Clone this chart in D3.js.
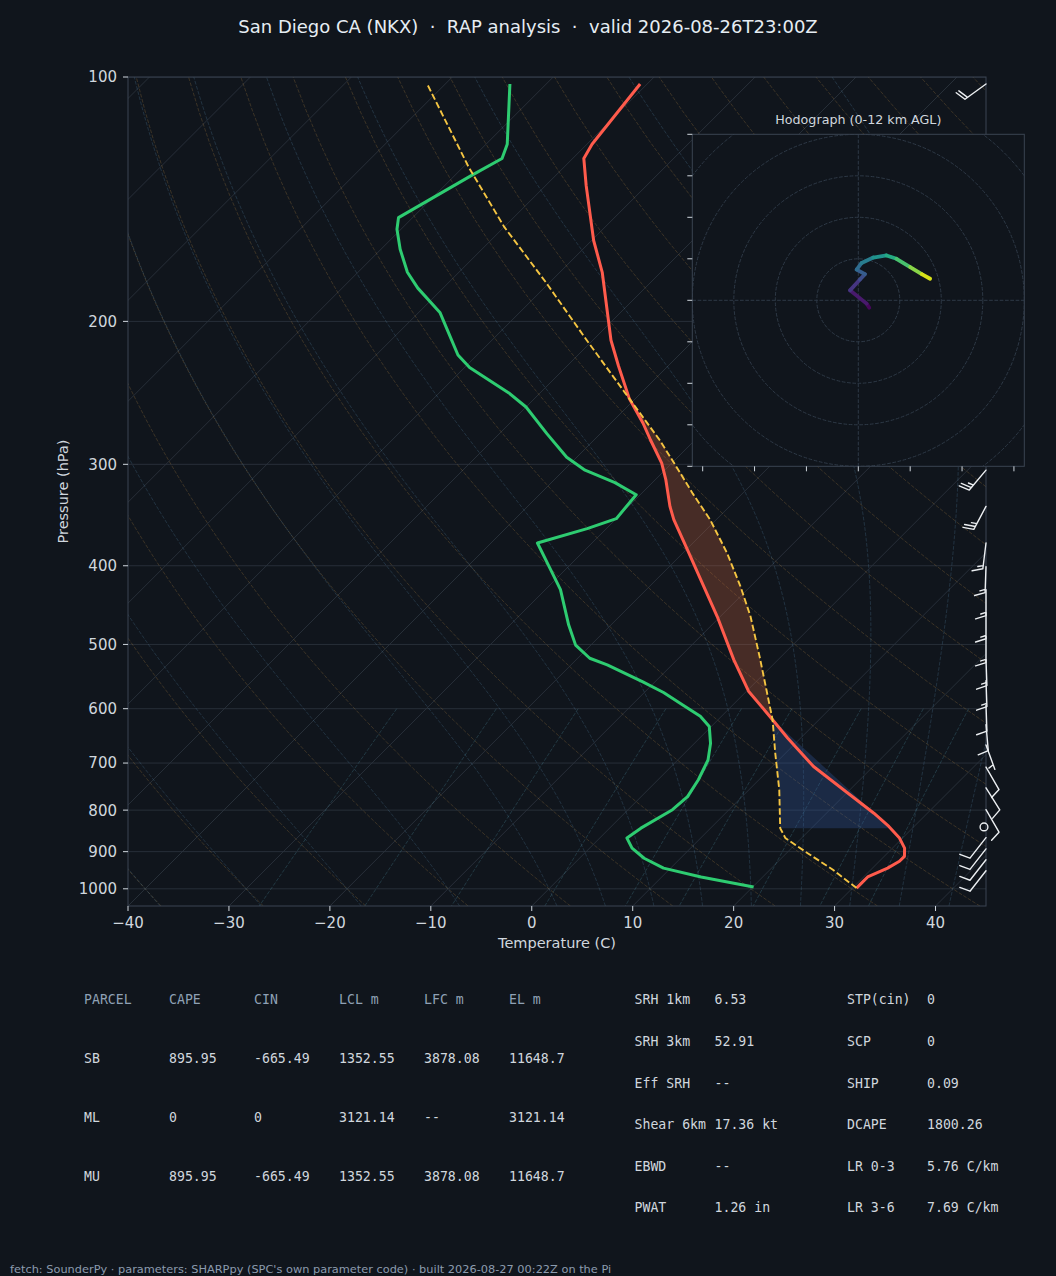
<!DOCTYPE html>
<html>
<head>
<meta charset="utf-8">
<script src="https://cdn.jsdelivr.net/npm/d3@7"></script>
<style>
  html, body { margin: 0; padding: 0; background: #10151c; }
  svg { display: block; }
</style>
</head>
<body>
<div id="chart"></div>
<script>
// Skew-T / log-P sounding with hodograph inset and parameter table

// environment temperature (hPa, C)
const tempP = [998, 982, 967, 943, 925, 912, 891, 866, 838, 807, 762, 707, 652, 619, 571, 522, 462, 416, 382, 351, 338, 313, 299, 280, 267, 249, 227, 211, 174, 159, 136, 126, 121, 102];
const tempC = [30.4, 30.4, 30.4, 31.5, 32.0, 32.0, 31.2, 29.7, 27.5, 24.7, 20.1, 14.1, 8.7, 5.4, 0.2, -4.4, -10.3, -15.6, -19.9, -24.2, -25.9, -29.0, -31.0, -34.4, -36.8, -40.6, -44.9, -48.2, -55.8, -59.8, -66.0, -68.9, -69.5, -70.7];

// dewpoint (hPa, C)
const dewP = [995, 967, 943, 917, 891, 866, 842, 799, 770, 734, 694, 662, 631, 613, 594, 573, 556, 530, 520, 501, 473, 428, 401, 375, 360, 350, 327, 316, 305, 294, 275, 255, 245, 228, 220, 203, 195, 182, 174, 163, 154, 149, 132, 126, 121, 102];
const dewC = [20.1, 13.9, 9.3, 6.4, 4.2, 2.7, 3.1, 4.4, 4.6, 4.0, 3.0, 1.6, -0.2, -2.1, -4.9, -8.1, -11.2, -16.4, -18.8, -21.5, -24.2, -28.5, -31.9, -35.4, -31.9, -30.0, -30.4, -33.7, -37.9, -41.0, -45.3, -50.0, -53.1, -59.5, -61.9, -65.9, -67.9, -72.5, -75.1, -78.1, -80.4, -81.4, -78.3, -77.0, -77.9, -83.6];

// surface parcel path (hPa, C)
const parcelP = [998, 948, 904, 866, 842, 755, 681, 619, 518, 462, 424, 386, 351, 326, 302, 280, 249, 211, 179, 153, 129, 102];
const parcelC = [30.4, 26.3, 22.1, 18.4, 16.9, 13.0, 9.0, 5.4, -2.1, -7.0, -11.0, -15.6, -20.6, -24.9, -29.2, -33.5, -40.6, -50.6, -60.4, -70.0, -79.5, -91.8];
const lclP = 842, lfcP = 619, elP = 249;

// wind barbs (hPa, deg, kt)
const barbP   = [102, 305, 338, 375, 401, 428, 457, 489, 522, 554, 594, 628, 665, 708, 751, 799, 839, 865, 893, 921, 950];
const barbDir = [234, 220, 208, 187, 182, 180, 180, 180, 178, 178, 178, 175, 160, 150, 148, 150, 0, 218, 218, 218, 218];
const barbSpd = [20, 25, 25, 15, 15, 15, 15, 15, 15, 15, 10, 10, 5, 10, 10, 10, 0, 10, 10, 10, 10];

// hodograph (kt) and height (km AGL)
const hodoU = [2.65, 2.0, -2.0, 0.4, 1.6, -0.4, 0.8, 3.6, 6.8, 9.2, 12.5, 15.3, 17.3];
const hodoV = [-1.8, -0.8, 2.4, 5.0, 6.3, 7.4, 9.0, 10.3, 10.8, 10.0, 8.0, 6.3, 5.2];
const hodoZ = [0, 0.4, 1.2, 2.5, 3.2, 3.8, 4.6, 5.5, 6.8, 7.8, 9.2, 10.5, 12];

// axes ticks
const xTicks = [-40, -30, -20, -10, 0, 10, 20, 30, 40];
const yTicks = [100, 200, 300, 400, 500, 600, 700, 800, 900, 1000];
const hodoXTicks = [-37.5, -25, -12.5, 0, 12.5, 25, 37.5];
const hodoYTicks = [-40, -30, -20, -10, 0, 10, 20, 30, 40];
const hodoRings = [10, 20, 30, 40, 50];

// parameter table
const parcelHeaders = ['PARCEL', 'CAPE', 'CIN', 'LCL m', 'LFC m', 'EL m'];
const parcelRows = [
  ['SB', '895.95', '-665.49', '1352.55', '3878.08', '11648.7'],
  ['ML', '0', '0', '3121.14', '--', '3121.14'],
  ['MU', '895.95', '-665.49', '1352.55', '3878.08', '11648.7']
];
const paramLabelsA = ['SRH 1km', 'SRH 3km', 'Eff SRH', 'Shear 6km', 'EBWD', 'PWAT'];
const paramValuesA = ['6.53', '52.91', '--', '17.36 kt', '--', '1.26 in'];
const paramLabelsB = ['STP(cin)', 'SCP', 'SHIP', 'DCAPE', 'LR 0-3', 'LR 3-6'];
const paramValuesB = ['0', '0', '0.09', '1800.26', '5.76 C/km', '7.69 C/km'];

const titleText = 'San Diego CA (NKX)  \u00b7  RAP analysis  \u00b7  valid 2026-08-26T23:00Z';
const footerText = "fetch: SounderPy \u00b7 parameters: SHARPpy (SPC's own parameter code) \u00b7 built 2026-08-27 00:22Z on the Pi";

// ---------------------------------------------------------------
const BG = '#10151c';
const TEXT = '#d0d7de';
const SPINE = '#3a4452';
const GRID = '#2a323c';
const SANS = '"DejaVu Sans", sans-serif';
const MONO = '"DejaVu Sans Mono", monospace';

const figW = 1056, figH = 1276;
const margin = { left: 128, top: 77 };
const W = 858, H = 829;

const svg = d3.select('#chart').append('svg')
  .attr('width', figW).attr('height', figH);

svg.append('rect').attr('width', figW).attr('height', figH).attr('fill', BG);

const x = d3.scaleLinear().domain([-40, 45]).range([0, W]);
const y = d3.scaleLog().domain([1050, 100]).range([H, 0]);
const skewX = (t, p) => x(t) + (H - y(p));

const zip = (ps, ts) => ps.map((p, i) => ({ p: p, t: ts[i] }));
const line = d3.line().x(d => skewX(d.t, d.p)).y(d => y(d.p));

const defs = svg.append('defs');
defs.append('clipPath').attr('id', 'skew-clip')
  .append('rect').attr('width', W).attr('height', H);

const g = svg.append('g').attr('transform', `translate(${margin.left},${margin.top})`);
const plot = g.append('g').attr('clip-path', 'url(#skew-clip)');

// isobars
plot.selectAll('.isobar').data(yTicks).enter().append('line')
  .attr('x1', 0).attr('x2', W)
  .attr('y1', d => y(d)).attr('y2', d => y(d))
  .attr('stroke', GRID).attr('stroke-width', 0.9);

// isotherms
plot.selectAll('.isotherm').data(d3.range(-130, 50, 10)).enter().append('line')
  .attr('x1', d => skewX(d, 1050)).attr('y1', H)
  .attr('x2', d => skewX(d, 100)).attr('y2', 0)
  .attr('stroke', GRID).attr('stroke-width', 0.9);

// dry adiabats
const profileP = d3.range(1050, 99, -10);
d3.range(-40, 246, 10).forEach(t0 => {
  const pts = profileP.map(p => ({ p: p, t: (t0 + 273.15) * Math.pow(p / 1000, 0.2857) - 273.15 }));
  plot.append('path').attr('d', line(pts))
    .attr('fill', 'none').attr('stroke', 'rgba(190,140,70,0.28)')
    .attr('stroke-width', 0.9).attr('stroke-dasharray', '3.7,1.6');
});

// moist adiabats
const Rd = 287.04749, Cp = 1004.6662, Lv = 2.50084e6, eps = 0.6219569;
function satMix(p, T) {
  const es = 6.112 * Math.exp(17.67 * (T - 273.15) / (T - 29.65));
  return eps * es / (p - es);
}
function dTdp(p, T) {
  const rs = satMix(p, T);
  return (Rd * T + Lv * rs) / (Cp + Lv * Lv * rs * eps / (Rd * T * T)) / p;
}
function moistPath(t0) {
  const walk = (dp, stop) => {
    let T = t0 + 273.15, p = 1000;
    const out = [];
    while ((dp < 0 && p > stop) || (dp > 0 && p < stop)) {
      const k1 = dTdp(p, T);
      const k2 = dTdp(p + dp / 2, T + dp / 2 * k1);
      const k3 = dTdp(p + dp / 2, T + dp / 2 * k2);
      const k4 = dTdp(p + dp, T + dp * k3);
      T += dp / 6 * (k1 + 2 * k2 + 2 * k3 + k4);
      p += dp;
      out.push({ p: p, t: T - 273.15 });
    }
    return out;
  };
  return walk(2, 1050).reverse().concat([{ p: 1000, t: t0 }], walk(-2, 100));
}
d3.range(-40, 0, 10).concat(d3.range(0, 46, 5)).forEach(t0 => {
  plot.append('path').attr('d', line(moistPath(t0)))
    .attr('fill', 'none').attr('stroke', 'rgba(90,140,180,0.28)')
    .attr('stroke-width', 0.9).attr('stroke-dasharray', '3.7,1.6');
});

// mixing ratio lines
const mixP = d3.range(600, 1051, 10);
[0.0004, 0.001, 0.002, 0.004, 0.007, 0.01, 0.016, 0.024, 0.032].forEach(w => {
  const pts = mixP.map(p => {
    const e = p * w / (eps + w);
    const v = Math.log(e / 6.112);
    return { p: p, t: 243.5 * v / (17.67 - v) };
  });
  plot.append('path').attr('d', line(pts))
    .attr('fill', 'none').attr('stroke', 'rgba(80,150,170,0.3)')
    .attr('stroke-width', 0.9).attr('stroke-dasharray', '3.7,1.6');
});

// CAPE / CIN shading
function tempAt(ps, ts, p) {
  for (let i = 0; i < ps.length - 1; i++) {
    if ((ps[i] - p) * (ps[i + 1] - p) <= 0) {
      const f = Math.log(p / ps[i]) / Math.log(ps[i + 1] / ps[i]);
      return ts[i] + f * (ts[i + 1] - ts[i]);
    }
  }
  return ts[ts.length - 1];
}
const parcel = zip(parcelP, parcelC);
const env = zip(tempP, tempC);

const capePoly = parcel.filter(d => d.p <= lfcP && d.p >= elP)
  .concat(env.filter(d => d.p <= lfcP && d.p >= elP).reverse());
plot.append('path').attr('d', line(capePoly) + 'Z')
  .attr('fill', 'rgba(200,100,62,0.3)').attr('stroke', 'none');

const cinPoly = parcel.filter(d => d.p <= lclP && d.p >= lfcP)
  .concat(env.filter(d => d.p >= lfcP && d.p < lclP))
  .concat([{ p: lclP, t: tempAt(tempP, tempC, lclP) }]);
plot.append('path').attr('d', line(cinPoly) + 'Z')
  .attr('fill', 'rgba(53,94,165,0.3)').attr('stroke', 'none');

// profiles
plot.append('path').attr('d', line(env))
  .attr('fill', 'none').attr('stroke', '#ff5b4c').attr('stroke-width', 3)
  .attr('stroke-linejoin', 'round');
plot.append('path').attr('d', line(zip(dewP, dewC)))
  .attr('fill', 'none').attr('stroke', '#2ecc71').attr('stroke-width', 3)
  .attr('stroke-linejoin', 'round');
plot.append('path').attr('d', line(parcel))
  .attr('fill', 'none').attr('stroke', '#f5c542').attr('stroke-width', 1.9)
  .attr('stroke-dasharray', '6.5,2.8');

// spines
g.append('rect').attr('width', W).attr('height', H)
  .attr('fill', 'none').attr('stroke', SPINE).attr('stroke-width', 1);

// y axis
const yAx = g.append('g');
yTicks.forEach(p => {
  yAx.append('line').attr('x1', -5).attr('x2', 0).attr('y1', y(p)).attr('y2', y(p))
    .attr('stroke', TEXT).attr('stroke-width', 1);
  yAx.append('text').attr('x', -11).attr('y', y(p)).attr('dy', '0.36em')
    .attr('text-anchor', 'end').attr('fill', TEXT)
    .style('font-family', SANS).style('font-size', '15px').text(p);
});

// x axis
const xAx = g.append('g').attr('transform', `translate(0,${H})`);
xTicks.forEach(t => {
  xAx.append('line').attr('x1', x(t)).attr('x2', x(t)).attr('y1', 0).attr('y2', 5)
    .attr('stroke', TEXT).attr('stroke-width', 1);
  xAx.append('text').attr('x', x(t)).attr('y', 22)
    .attr('text-anchor', 'middle').attr('fill', TEXT)
    .style('font-family', SANS).style('font-size', '15px')
    .text(String(t).replace('-', '\u2212'));
});

g.append('text').attr('x', W / 2).attr('y', H + 42)
  .attr('text-anchor', 'middle').attr('fill', TEXT)
  .style('font-family', SANS).style('font-size', '14.5px')
  .text('Temperature (C)');

g.append('text')
  .attr('transform', `translate(${67.7 - margin.left},${H / 2}) rotate(-90)`)
  .attr('text-anchor', 'middle').attr('fill', TEXT)
  .style('font-family', SANS).style('font-size', '14.5px')
  .text('Pressure (hPa)');

// wind barbs along right edge
const barbs = g.append('g')
  .attr('stroke', '#eceff2').attr('stroke-width', 1.4)
  .attr('fill', 'none').attr('stroke-linecap', 'round');

function drawBarb(px, py, dir, spd) {
  const L = 26;
  if (spd < 2.5) {
    barbs.append('circle').attr('cx', px - 2).attr('cy', py).attr('r', 0.15 * L);
    return;
  }
  const th = dir * Math.PI / 180;
  const dx = Math.sin(th), dy = -Math.cos(th);
  const nx = -dy, ny = dx;
  const sp = 0.125 * L, h = 0.4 * L, w = 0.25 * L;
  const r = Math.round(spd / 5) * 5;
  const nFull = Math.floor(r / 10);
  const half = r % 10 >= 5;
  let d = `M${px},${py}L${px + L * dx},${py + L * dy}`;
  let off = L;
  for (let i = 0; i < nFull; i++) {
    const sx = px + off * dx, sy = py + off * dy;
    d += `M${sx},${sy}L${sx + h * nx + w / 2 * dx},${sy + h * ny + w / 2 * dy}`;
    off -= sp;
  }
  if (half) {
    if (off === L) off -= 1.5 * sp;
    const sx = px + off * dx, sy = py + off * dy;
    d += `M${sx},${sy}L${sx + h / 2 * nx + w / 4 * dx},${sy + h / 2 * ny + w / 4 * dy}`;
  }
  barbs.append('path').attr('d', d);
}
barbP.forEach((p, i) => drawBarb(W, y(p), barbDir[i], barbSpd[i]));

// hodograph inset
const hodoLeft = 692.3, hodoTop = 134.3, hodoSize = 332;
const hx = d3.scaleLinear().domain([-40, 40]).range([0, hodoSize]);
const hy = d3.scaleLinear().domain([-40, 40]).range([hodoSize, 0]);

defs.append('clipPath').attr('id', 'hodo-clip')
  .append('rect').attr('width', hodoSize).attr('height', hodoSize);

const hg = svg.append('g').attr('transform', `translate(${hodoLeft},${hodoTop})`);
hg.append('rect').attr('width', hodoSize).attr('height', hodoSize).attr('fill', BG);

const hplot = hg.append('g').attr('clip-path', 'url(#hodo-clip)');
hplot.selectAll('.ring').data(hodoRings).enter().append('circle')
  .attr('cx', hx(0)).attr('cy', hy(0))
  .attr('r', d => hx(d) - hx(0))
  .attr('fill', 'none').attr('stroke', '#2e3946').attr('stroke-width', 1)
  .attr('stroke-dasharray', '3.7,1.6');
hplot.append('line').attr('x1', 0).attr('x2', hodoSize).attr('y1', hy(0)).attr('y2', hy(0))
  .attr('stroke', '#2e3946').attr('stroke-dasharray', '3.7,1.6');
hplot.append('line').attr('y1', 0).attr('y2', hodoSize).attr('x1', hx(0)).attr('x2', hx(0))
  .attr('stroke', '#2e3946').attr('stroke-dasharray', '3.7,1.6');

const zColor = d3.scaleSequential(d3.interpolateViridis).domain([0, 12]);
for (let i = 0; i < hodoU.length - 1; i++) {
  hplot.append('line')
    .attr('x1', hx(hodoU[i])).attr('y1', hy(hodoV[i]))
    .attr('x2', hx(hodoU[i + 1])).attr('y2', hy(hodoV[i + 1]))
    .attr('stroke', zColor((hodoZ[i] + hodoZ[i + 1]) / 2))
    .attr('stroke-width', 3.8).attr('stroke-linecap', 'round');
}

hg.append('rect').attr('width', hodoSize).attr('height', hodoSize)
  .attr('fill', 'none').attr('stroke', SPINE).attr('stroke-width', 1);

hodoXTicks.forEach(t => {
  hg.append('line').attr('x1', hx(t)).attr('x2', hx(t)).attr('y1', hodoSize).attr('y2', hodoSize + 5)
    .attr('stroke', TEXT).attr('stroke-width', 1);
});
hodoYTicks.forEach(t => {
  hg.append('line').attr('x1', -5).attr('x2', 0).attr('y1', hy(t)).attr('y2', hy(t))
    .attr('stroke', TEXT).attr('stroke-width', 1);
});

hg.append('text').attr('x', hodoSize / 2).attr('y', -10)
  .attr('text-anchor', 'middle').attr('fill', TEXT)
  .style('font-family', SANS).style('font-size', '12.7px')
  .text('Hodograph (0-12 km AGL)');

// title
svg.append('text').attr('x', figW / 2).attr('y', 33)
  .attr('text-anchor', 'middle').attr('fill', '#e6edf3')
  .style('font-family', SANS).style('font-size', '18px').style('white-space', 'pre')
  .text(titleText);

// parcel table
const colX = [84, 169, 254, 339, 424, 509];
const rowY = [1004.3, 1063.1, 1121.8, 1180.8];
parcelHeaders.forEach((h, j) => {
  svg.append('text').attr('x', colX[j]).attr('y', rowY[0])
    .attr('fill', '#8fa1b5').style('font-family', MONO).style('font-size', '13.2px')
    .text(h);
});
parcelRows.forEach((row, i) => {
  row.forEach((v, j) => {
    svg.append('text').attr('x', colX[j]).attr('y', rowY[i + 1])
      .attr('fill', TEXT).style('font-family', MONO).style('font-size', '13.2px')
      .text(v);
  });
});

// index table
const idxX = [634.5, 714.5, 847, 927];
const idxY = [1004.3, 1046.1, 1087.5, 1129.1, 1170.5, 1212.1];
[paramLabelsA, paramValuesA, paramLabelsB, paramValuesB].forEach((col, j) => {
  col.forEach((v, i) => {
    svg.append('text').attr('x', idxX[j]).attr('y', idxY[i])
      .attr('fill', TEXT).style('font-family', MONO).style('font-size', '13.2px')
      .style('white-space', 'pre').text(v);
  });
});

// footer
svg.append('text').attr('x', 10).attr('y', 1273)
  .attr('fill', '#8c9bae').style('font-family', SANS).style('font-size', '11.35px')
  .text(footerText);
</script>
</body>
</html>
